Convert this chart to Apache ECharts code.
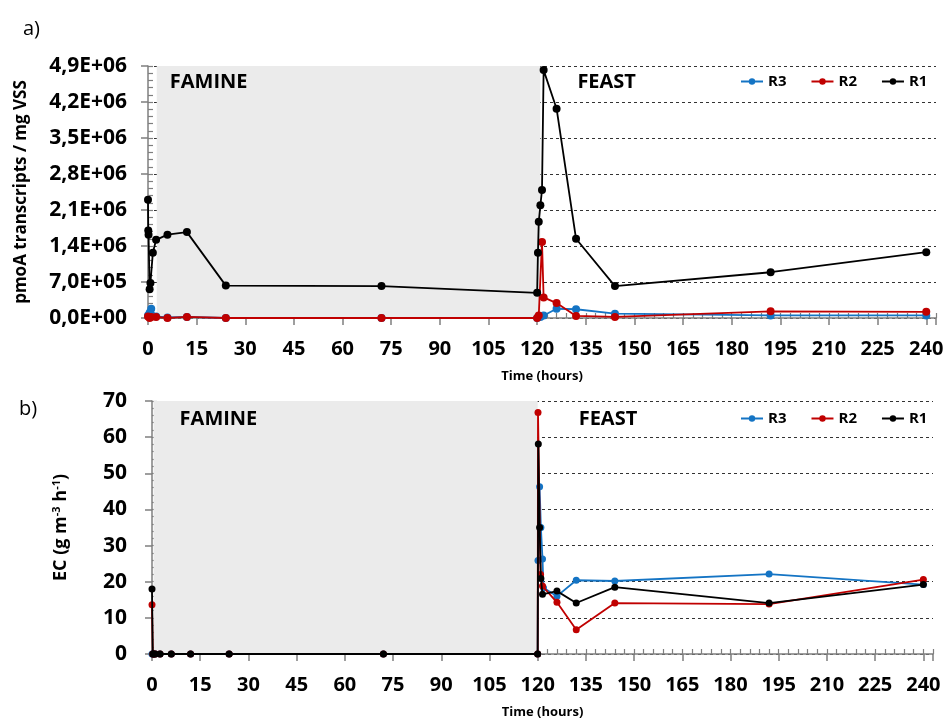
<!DOCTYPE html>
<html>
<head>
<meta charset="utf-8">
<script src="https://cdn.jsdelivr.net/npm/echarts@6/dist/echarts.min.js"></script>
<style>html,body{margin:0;padding:0;background:#fff}#c{width:947px;height:720px}</style>
</head>
<body>
<div id="c"></div>
<script>
// ---- Data: top panel (a) pmoA transcripts / mg VSS ----
const r1TopTime = [0, 0.08, 0.17, 0.5, 0.75, 1.5, 2.5, 6, 12, 24, 72, 120, 120.25, 120.5, 121, 121.5, 122, 126, 132, 144, 192, 240];
const r1TopVal  = [2.30e6, 1.70e6, 1.62e6, 0.56e6, 0.68e6, 1.27e6, 1.52e6, 1.62e6, 1.67e6, 0.63e6, 0.62e6, 0.49e6, 1.27e6, 1.87e6, 2.19e6, 2.49e6, 4.82e6, 4.07e6, 1.54e6, 0.62e6, 0.89e6, 1.28e6];
const r2TopTime = [0, 0.5, 1, 2.5, 6, 12, 24, 72, 120, 120.5, 121.5, 122, 126, 132, 144, 192, 240];
const r2TopVal  = [0.03e6, 0.0, 0.02e6, 0.02e6, 0.0, 0.02e6, 0.0, 0.0, 0.0, 0.05e6, 1.48e6, 0.40e6, 0.29e6, 0.04e6, 0.02e6, 0.13e6, 0.12e6];
const r3TopTime = [0, 0.5, 1, 2.5, 6, 12, 24, 72, 120, 121, 122, 126, 132, 144, 192, 240];
const r3TopVal  = [0.05e6, 0.10e6, 0.18e6, 0.03e6, 0.01e6, 0.02e6, 0, 0, 0, 0.02e6, 0.05e6, 0.18e6, 0.17e6, 0.085e6, 0.05e6, 0.05e6];

// ---- Data: bottom panel (b) EC (g m-3 h-1) ----
const r1EcTime = [0, 0.25, 0.5, 1, 2.5, 6, 12, 24, 72, 120, 120.2, 120.6, 121, 121.5, 126, 132, 144, 192, 240];
const r1EcVal  = [18.0, 0, 0, 0, 0, 0, 0, 0, 0, 0, 58.1, 35.0, 20.9, 16.5, 17.4, 14.1, 18.5, 14.1, 19.2];
const r2EcTime = [0, 0.25, 0.5, 1, 2.5, 6, 12, 24, 72, 120, 120.1, 120.9, 121.5, 126, 132, 144, 192, 240];
const r2EcVal  = [13.6, 0, 0, 0, 0, 0, 0, 0, 0, 0, 66.8, 22.0, 18.8, 14.3, 6.7, 14.1, 13.8, 20.6];
const r3EcTime = [0, 0.25, 0.5, 1, 2.5, 6, 12, 24, 72, 120, 120.1, 120.6, 121, 121.5, 121.8, 126, 132, 144, 192, 240];
const r3EcVal  = [0, 0, 0, 0, 0, 0, 0, 0, 0, 0, 25.9, 46.3, 35.0, 26.3, 18.3, 16.0, 20.4, 20.2, 22.1, 19.2];

// ---- Axis / annotation settings ----
const xTickStep = 15;
const topYMax = 4.9e6, topYStep = 0.7e6;
const ecYMax = 70, ecYStep = 10;
const faminePhaseTop = [2.7, 121];
const faminePhaseEc = [0.5, 120];
const seriesNames = ['R3', 'R2', 'R1'];
const seriesColors = {R3: '#1474C4', R2: '#C00000', R1: '#000000'};

function pairs(t, v) { return t.map((x, i) => [x, v[i]]); }
function sciComma(v) {
  if (Math.abs(v) < 1e-9) return '0,0E+00';
  let e = Math.floor(Math.log10(v) + 1e-9);
  let m = v / Math.pow(10, e);
  if (Number(m.toFixed(1)) >= 10) { e += 1; m = m / 10; }
  return m.toFixed(1).replace('.', ',') + 'E+' + String(e).padStart(2, '0');
}

const FONT = 'Open Sans';
const axisGray = '#7f7f7f';
const gridDash = {type: [3, 3], color: '#333', width: 1};

function mainX(gridIndex) {
  return {
    gridIndex, type: 'value', min: 0, max: 243, interval: xTickStep,
    axisLine: {show: true, onZero: false, lineStyle: {color: axisGray, width: 1.5}},
    axisTick: {show: true, inside: false, length: 7, lineStyle: {color: axisGray, width: 1.5}},
    axisLabel: {fontFamily: FONT, fontWeight: 'bold', fontSize: 20, color: '#000', margin: 21,
      formatter: v => (v % xTickStep === 0 && v <= 240) ? String(v) : ''},
    splitLine: {show: false},
    name: 'Time (hours)', nameLocation: 'middle', nameGap: 52,
    nameTextStyle: {fontFamily: FONT, fontWeight: 'bold', fontSize: 13, color: '#000'}
  };
}
function minorX(gridIndex) {
  return {
    gridIndex, type: 'value', min: 0, max: 243, interval: 3, position: 'bottom',
    axisLine: {show: false}, axisLabel: {show: false}, splitLine: {show: false},
    axisTick: {show: true, inside: true, length: 5, lineStyle: {color: axisGray, width: 1.2}}
  };
}

const seriesTop = [
  {name: 'R3', data: pairs(r3TopTime, r3TopVal)},
  {name: 'R2', data: pairs(r2TopTime, r2TopVal)},
  {name: 'R1', data: pairs(r1TopTime, r1TopVal)}
];
const seriesEc = [
  {name: 'R3', data: pairs(r3EcTime, r3EcVal)},
  {name: 'R2', data: pairs(r2EcTime, r2EcVal)},
  {name: 'R1', data: pairs(r1EcTime, r1EcVal)}
];

function phaseArea(phase, labelOff1, labelOff2) {
  const lbl = (off) => ({show: true, position: 'insideTopLeft', distance: 0, offset: off,
    fontFamily: FONT, fontWeight: 'bold', fontSize: 20, color: '#000'});
  return {
    silent: true,
    data: [
      [{xAxis: phase[0], name: 'FAMINE', itemStyle: {color: '#ebebeb'}, label: lbl(labelOff1)}, {xAxis: phase[1]}],
      [{xAxis: phase[1], name: 'FEAST', itemStyle: {color: 'rgba(0,0,0,0)'}, label: lbl(labelOff2)}, {xAxis: 243}]
    ]
  };
}

const series = [];
seriesTop.forEach((s, i) => {
  const o = {
    name: s.name, type: 'line', xAxisIndex: 0, yAxisIndex: 0, data: s.data,
    symbol: 'circle', symbolSize: 8, color: seriesColors[s.name],
    lineStyle: {width: 1.8, color: seriesColors[s.name]},
    itemStyle: {color: seriesColors[s.name]}, z: 3 + i, animation: false
  };
  if (i === 0) o.markArea = phaseArea(faminePhaseTop, [13, 6], [37, 6]);
  series.push(o);
});
seriesEc.forEach((s, i) => {
  const o = {
    name: s.name, type: 'line', xAxisIndex: 1, yAxisIndex: 1, data: s.data,
    symbol: 'circle', symbolSize: 7, color: seriesColors[s.name],
    lineStyle: {width: 1.8, color: seriesColors[s.name]},
    itemStyle: {color: seriesColors[s.name]}, z: 3 + i, animation: false
  };
  if (i === 0) o.markArea = phaseArea(faminePhaseEc, [26, 8], [41, 8]);
  series.push(o);
});

const legendCommon = {
  data: seriesNames, itemWidth: 22, itemHeight: 8, itemGap: 24,
  textStyle: {fontFamily: FONT, fontWeight: 'bold', fontSize: 15, color: '#000'},
  selectedMode: false
};

const option = {
  animation: false,
  backgroundColor: '#fff',
  title: [
    {text: 'a)', left: 18, top: 14, textStyle: {fontFamily: FONT, fontWeight: 'normal', fontSize: 20, color: '#000'}},
    {text: 'b)', left: 14, top: 394, textStyle: {fontFamily: FONT, fontWeight: 'normal', fontSize: 20, color: '#000'}}
  ],
  legend: [
    Object.assign({left: 735, top: 69}, legendCommon),
    Object.assign({left: 735, top: 406}, legendCommon)
  ],
  grid: [
    {left: 148, top: 66, width: 788, height: 252},
    {left: 152, top: 401, width: 781, height: 256}
  ],
  xAxis: [mainX(0), mainX(1), minorX(0), minorX(1)],
  yAxis: [
    {
      gridIndex: 0, type: 'value', min: 0, max: topYMax, interval: topYStep, position: 'left',
      axisLine: {show: true, lineStyle: {color: axisGray, width: 1.5}},
      axisTick: {show: true, inside: false, length: 7, lineStyle: {color: axisGray, width: 1.5}},
      axisLabel: {fontFamily: FONT, fontWeight: 'bold', fontSize: 21, color: '#000', margin: 21, formatter: sciComma},
      splitLine: {show: true, lineStyle: gridDash},
      name: 'pmoA transcripts / mg VSS', nameLocation: 'middle', nameGap: 118, nameRotate: 90,
      nameTextStyle: {fontFamily: FONT, fontWeight: 'bold', fontSize: 17, color: '#000'}
    },
    {
      gridIndex: 1, type: 'value', min: 0, max: ecYMax, interval: ecYStep, position: 'left',
      axisLine: {show: true, lineStyle: {color: axisGray, width: 1.5}},
      axisTick: {show: true, inside: false, length: 7, lineStyle: {color: axisGray, width: 1.5}},
      axisLabel: {fontFamily: FONT, fontWeight: 'bold', fontSize: 21, color: '#000', margin: 25},
      splitLine: {show: true, lineStyle: gridDash},
      name: 'EC (g m{sup|-3} h{sup|-1})', nameLocation: 'middle', nameGap: 82, nameRotate: 90,
      nameTextStyle: {fontFamily: FONT, fontWeight: 'bold', fontSize: 18, color: '#000',
        rich: {sup: {fontFamily: FONT, fontWeight: 'bold', fontSize: 11, color: '#000', verticalAlign: 'top', padding: [0, 0, 8, 0]}}}
    },
    {
      gridIndex: 0, type: 'value', min: 0, max: topYMax, interval: topYStep / 5, position: 'left',
      axisLine: {show: false}, axisLabel: {show: false}, splitLine: {show: false},
      axisTick: {show: true, inside: true, length: 5, lineStyle: {color: axisGray, width: 1.2}}
    },
    {
      gridIndex: 1, type: 'value', min: 0, max: ecYMax, interval: ecYStep / 5, position: 'left',
      axisLine: {show: false}, axisLabel: {show: false}, splitLine: {show: false},
      axisTick: {show: true, inside: true, length: 5, lineStyle: {color: axisGray, width: 1.2}}
    }
  ],
  series
};

const chart = echarts.init(document.getElementById('c'), null, {renderer: 'canvas'});
chart.setOption(option);
</script>
</body>
</html>
